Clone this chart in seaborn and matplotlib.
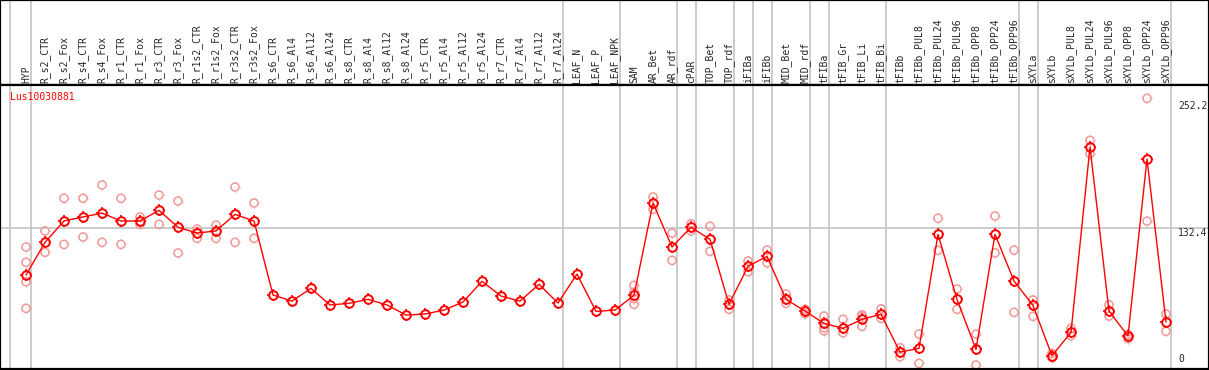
import numpy as np
import pandas as pd
import matplotlib
matplotlib.use("Agg")
import matplotlib.pyplot as plt
import matplotlib.transforms as mtransforms
from matplotlib.path import Path
import seaborn as sns

# === Data ===
gene = "Lus10030881"

samples = [
    "HYP", "R_s2_CTR", "R_s2_Fox", "R_s4_CTR", "R_s4_Fox", "R_r1_CTR", "R_r1_Fox",
    "R_r3_CTR", "R_r3_Fox", "R_r1s2_CTR", "R_r1s2_Fox", "R_r3s2_CTR", "R_r3s2_Fox",
    "R_s6_CTR", "R_s6_Al4", "R_s6_Al12", "R_s6_Al24", "R_s8_CTR", "R_s8_Al4",
    "R_s8_Al12", "R_s8_Al24", "R_r5_CTR", "R_r5_Al4", "R_r5_Al12", "R_r5_Al24",
    "R_r7_CTR", "R_r7_Al4", "R_r7_Al12", "R_r7_Al24", "LEAF_N", "LEAF_P", "LEAF_NPK",
    "SAM", "AR_Bet", "AR_rdf", "cPAR", "TOP_Bet", "TOP_rdf", "iFIBa", "iFIBb",
    "MID_Bet", "MID_rdf", "tFIBa", "tFIB_Gr", "tFIB_Li", "tFIB_Bi", "tFIBb",
    "tFIBb_PUL8", "tFIBb_PUL24", "tFIBb_PUL96", "tFIBb_OPP8", "tFIBb_OPP24",
    "tFIBb_OPP96", "sXYLa", "sXYLb", "sXYLb_PUL8", "sXYLb_PUL24", "sXYLb_PUL96",
    "sXYLb_OPP8", "sXYLb_OPP24", "sXYLb_OPP96",
]

means = [
    89.4, 119.5, 139.2, 142.9, 146.5, 139.2, 139.2, 149.0, 133.4, 128.1, 130.0, 145.3, 139.2,
    71.0, 65.4, 77.1, 61.8, 63.3, 67.0, 61.8, 52.5, 53.5, 57.1, 64.5, 83.6,
    70.0, 65.4, 80.8, 63.6, 90.3, 55.9, 57.1,
    70.7, 155.8, 115.2, 133.4, 122.3, 62.4, 97.4, 106.6,
    67.0, 56.2, 44.9, 40.3, 48.6, 53.2, 18.4,
    21.8, 126.9, 67.0, 20.9, 126.9, 83.9,
    61.4, 15.0, 36.6, 207.4, 56.2, 33.2, 196.3, 46.1,
]

replicates = [
    [115.2, 101.1, 83.2, 58.7], [130.0, 110.3], [160.1, 117.6], [160.1, 124.4],
    [172.4, 119.5], [160.1, 117.6], [142.9, 136.1], [163.1, 136.1], [157.6, 109.7],
    [131.8, 123.2], [135.5, 123.2], [170.5, 119.5], [155.8, 123.2],
    [], [], [], [], [], [], [], [], [], [], [], [], [], [], [], [], [], [], [],
    [79.9, 73.7, 67.6, 62.4], [161.3, 150.0], [128.1, 102.9], [136.7, 130.0],
    [134.3, 111.2], [66.4, 57.8], [102.3, 92.4], [112.4, 100.7],
    [71.9, 63.3], [57.8, 53.7], [51.6, 40.8, 37.8], [48.6, 36.2], [52.8, 51.6, 42.1],
    [58.3, 49.5], [22.4, 14.1],
    [35.0, 8.0], [141.7, 112.1], [76.5, 57.8], [35.0, 6.5], [143.8, 109.7], [112.4, 55.0],
    [66.4, 51.3], [17.2, 13.2], [40.3, 33.5], [213.5, 201.2], [62.0, 51.6],
    [34.7, 30.7], [252.2, 139.1], [53.5, 37.5],
]

# index of the last sample in each group (gray separators)
group_ends = [0, 28, 31, 34, 35, 37, 38, 39, 41, 42, 45, 52, 53, 60]

axis_values = [0, 132.4, 252.2]
axis_labels = ["0", "132.4", "252.2"]

# === Tables ===
idx = np.arange(len(samples))
df_mean = pd.DataFrame({"pos": idx, "value": means})
df_rep = pd.DataFrame(
    [(i, v) for i, reps in enumerate(replicates) for v in reps],
    columns=["pos", "value"],
)

# === Style ===
sns.set_style("white")
plt.rcParams["font.family"] = ["DejaVu Sans Mono"]

# four short ticks around the circle markers
tick_paths = []
for dx, dy in [(1, 0), (-1, 0), (0, 1), (0, -1)]:
    tick_paths.append(Path([(dx * 0.72, dy * 0.72), (dx, dy)], [Path.MOVETO, Path.LINETO]))
tick_marker = Path.make_compound_path(*tick_paths)

W, H = 1209, 370
fig = plt.figure(figsize=(W / 100, H / 100), dpi=100)
head_px = 85
ax_head = fig.add_axes([0, (H - head_px) / H, 1, head_px / H])
ax = fig.add_axes([0, 1 / H, 1, (H - head_px - 1) / H], sharex=ax_head)

x0_px, step_px = 26, 19
ax.set_xlim((0 - x0_px) / step_px, (W - x0_px) / step_px)
ax.set_ylim(2.8, 264.5)
ax_head.set_ylim(0, 1)

for a in (ax, ax_head):
    a.set_xticks([])
    a.set_yticks([])
    for s in a.spines.values():
        s.set_color("black")
        s.set_linewidth(1.6)

# separators
seps = [-0.82] + [g + 0.25 for g in group_ends]
for a in (ax, ax_head):
    for s in seps:
        a.axvline(s, color="#c4c4c4", lw=1.2, zorder=0)
ax.axhline(axis_values[1], color="#c4c4c4", lw=1.2, zorder=0)

rep_color = "#f09a9a"
# replicates
sns.scatterplot(data=df_rep, x="pos", y="value", ax=ax, marker="o", s=34,
                facecolors="none", edgecolor=rep_color, linewidth=1.1,
                zorder=2, legend=False)
sns.scatterplot(data=df_rep, x="pos", y="value", ax=ax, marker=tick_marker, s=60,
                color=rep_color, edgecolor=rep_color, linewidth=1.0,
                zorder=2, legend=False)
# mean line
sns.lineplot(data=df_mean, x="pos", y="value", ax=ax, color="red", lw=1.0,
             sort=False, marker="o", markersize=6.2, markerfacecolor="none",
             markeredgecolor="red", markeredgewidth=1.4, zorder=3)
sns.lineplot(data=df_mean, x="pos", y="value", ax=ax, lw=0, sort=False,
             marker=tick_marker, markersize=8, markeredgecolor="red",
             markeredgewidth=1.2, zorder=3)
ax.set_xlabel("")
ax.set_ylabel("")

# sample labels in the header
trans_h = mtransforms.blended_transform_factory(ax_head.transData, ax_head.transAxes)
for i, name in enumerate(samples):
    ax_head.text(i, 0.025, name, rotation=90, ha="center", va="bottom",
                 fontsize=7, transform=trans_h)

# gene name
ax.text(0.0083, 0.958, gene, color="red", fontsize=7, ha="left", va="center",
        transform=ax.transAxes)

# value labels on the right
trans_r = mtransforms.blended_transform_factory(ax.transAxes, ax.transData)
label_offsets = [(8, "bottom"), (0, "top"), (-3, "top")]
for v, lab, (dy, va) in zip(axis_values, axis_labels, label_offsets):
    ax.annotate(lab, xy=(1178 / W, v), xycoords=trans_r, xytext=(0, dy),
                textcoords="offset pixels", ha="left", va=va, fontsize=7,
                annotation_clip=False)

fig.savefig("out.png", dpi=100)
